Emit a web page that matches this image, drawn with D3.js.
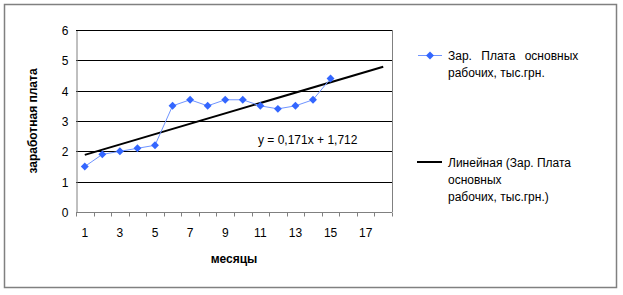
<!DOCTYPE html>
<html>
<head>
<meta charset="utf-8">
<script src="https://cdn.jsdelivr.net/npm/d3@7"></script>
<style>
  body { margin: 0; background: #fff; }
  text { font-family: "Liberation Sans", Arial, sans-serif; fill: #000; }
</style>
</head>
<body>
<div id="chart"></div>
<script>
// months 1..18 on the category axis, salary data for 15 of them
const months = d3.range(1, 19);
const salary = [1.5, 1.9, 2.0, 2.1, 2.2, 3.5, 3.7, 3.5, 3.7, 3.7, 3.5, 3.4, 3.5, 3.7, 4.4];
const yTicks = [0, 1, 2, 3, 4, 5, 6];
const xTickLabels = [1, 3, 5, 7, 9, 11, 13, 15, 17];
const trend = {slope: 0.171, intercept: 1.712};
const seriesName = ["Зар. Плата основных", "рабочих, тыс.грн."];
const trendName = ["Линейная (Зар. Плата", "основных", "рабочих, тыс.грн.)"];

const W = 623, H = 295;
const plot = {left: 76, right: 392, top: 30, bottom: 212};

const svg = d3.select("#chart").append("svg")
    .attr("width", W)
    .attr("height", H);

// outer frame
svg.append("rect")
    .attr("x", 4.5).attr("y", 4.5)
    .attr("width", 612).attr("height", 283)
    .attr("fill", "#fff")
    .attr("stroke", "#808080")
    .attr("stroke-width", 1.5);

const x = d3.scaleBand()
    .domain(months)
    .range([plot.left, plot.right]);

const y = d3.scaleLinear()
    .domain([0, 6])
    .range([plot.bottom, plot.top]);

const cx = function(m) { return x(m) + x.bandwidth() / 2; };

// gridlines
svg.append("g")
    .selectAll("line")
    .data(yTicks.filter(function(d) { return d > 0; }))
    .join("line")
    .attr("x1", plot.left).attr("x2", plot.right)
    .attr("y1", function(d) { return Math.round(y(d)) + 0.5; })
    .attr("y2", function(d) { return Math.round(y(d)) + 0.5; })
    .attr("stroke", "#000");

// plot area right edge
svg.append("line")
    .attr("x1", plot.right + 0.5).attr("x2", plot.right + 0.5)
    .attr("y1", plot.top).attr("y2", plot.bottom)
    .attr("stroke", "#808080");

// y axis
const yAxis = svg.append("g")
    .attr("transform", "translate(" + (plot.left + 0.5) + ",0.5)")
    .call(d3.axisLeft(y).tickValues(yTicks).tickFormat(d3.format("d")).tickSize(0).tickPadding(8));
yAxis.select(".domain").attr("stroke", "#808080");
yAxis.selectAll("text").style("font-size", "12px").attr("font-family", null);

// x axis: ticks on category boundaries
const xg = svg.append("g")
    .attr("transform", "translate(0," + (plot.bottom + 0.5) + ")");
xg.append("line")
    .attr("x1", plot.left).attr("x2", plot.right)
    .attr("stroke", "#808080");
xg.selectAll(".tk")
    .data(months.concat([19]))
    .join("line")
    .attr("class", "tk")
    .attr("x1", function(d) { return Math.round(plot.left + (d - 1) * x.bandwidth()) + 0.5; })
    .attr("x2", function(d) { return Math.round(plot.left + (d - 1) * x.bandwidth()) + 0.5; })
    .attr("y1", 0).attr("y2", 4)
    .attr("stroke", "#808080");
xg.selectAll("text")
    .data(xTickLabels)
    .join("text")
    .attr("x", cx)
    .attr("y", 24)
    .attr("text-anchor", "middle")
    .style("font-size", "12px")
    .text(function(d) { return d; });

// trend line
const trendLine = d3.line()
    .x(function(d) { return cx(d); })
    .y(function(d) { return y(trend.slope * d + trend.intercept); });
svg.append("path")
    .attr("d", trendLine([1, 18]))
    .attr("fill", "none")
    .attr("stroke", "#000")
    .attr("stroke-width", 2);

// series line and markers
const salaryLine = d3.line()
    .x(function(d, i) { return cx(months[i]); })
    .y(function(d) { return y(d); });
svg.append("path")
    .attr("d", salaryLine(salary))
    .attr("fill", "none")
    .attr("stroke", "#6f94ff")
    .attr("stroke-width", 1);

const diamond = d3.symbol().type(d3.symbolDiamond2).size(40);
svg.append("g")
    .selectAll("path")
    .data(salary)
    .join("path")
    .attr("transform", function(d, i) { return "translate(" + cx(months[i]) + "," + y(d) + ")"; })
    .attr("d", diamond)
    .attr("fill", "#3366ff");

// equation label
svg.append("text")
    .attr("x", 258).attr("y", 144)
    .style("font-size", "12px")
    .text("y = 0,171x + 1,712");

// axis titles
svg.append("text")
    .attr("transform", "translate(37," + ((plot.top + plot.bottom) / 2) + ") rotate(-90)")
    .attr("text-anchor", "middle")
    .style("font-size", "12px")
    .style("font-weight", "bold")
    .text("заработная плата");

svg.append("text")
    .attr("x", (plot.left + plot.right) / 2)
    .attr("y", 263)
    .attr("text-anchor", "middle")
    .style("font-size", "12px")
    .style("font-weight", "bold")
    .text("месяцы");

// legend
const leg = svg.append("g");
leg.append("line")
    .attr("x1", 418).attr("x2", 442).attr("y1", 55.5).attr("y2", 55.5)
    .attr("stroke", "#6f94ff");
leg.append("path")
    .attr("transform", "translate(430,55.5)")
    .attr("d", diamond)
    .attr("fill", "#3366ff");
leg.selectAll(".s1")
    .data(seriesName)
    .join("text")
    .attr("class", "s1")
    .attr("x", 448)
    .attr("y", function(d, i) { return 60 + i * 17; })
    .style("font-size", "12px")
    .style("word-spacing", function(d, i) { return i === 0 ? "6px" : null; })
    .text(function(d) { return d; });

leg.append("line")
    .attr("x1", 417).attr("x2", 442).attr("y1", 162).attr("y2", 162)
    .attr("stroke", "#000")
    .attr("stroke-width", 2);
leg.selectAll(".s2")
    .data(trendName)
    .join("text")
    .attr("class", "s2")
    .attr("x", 448)
    .attr("y", function(d, i) { return 167 + i * 17; })
    .style("font-size", "12px")
    .text(function(d) { return d; });
</script>
</body>
</html>
